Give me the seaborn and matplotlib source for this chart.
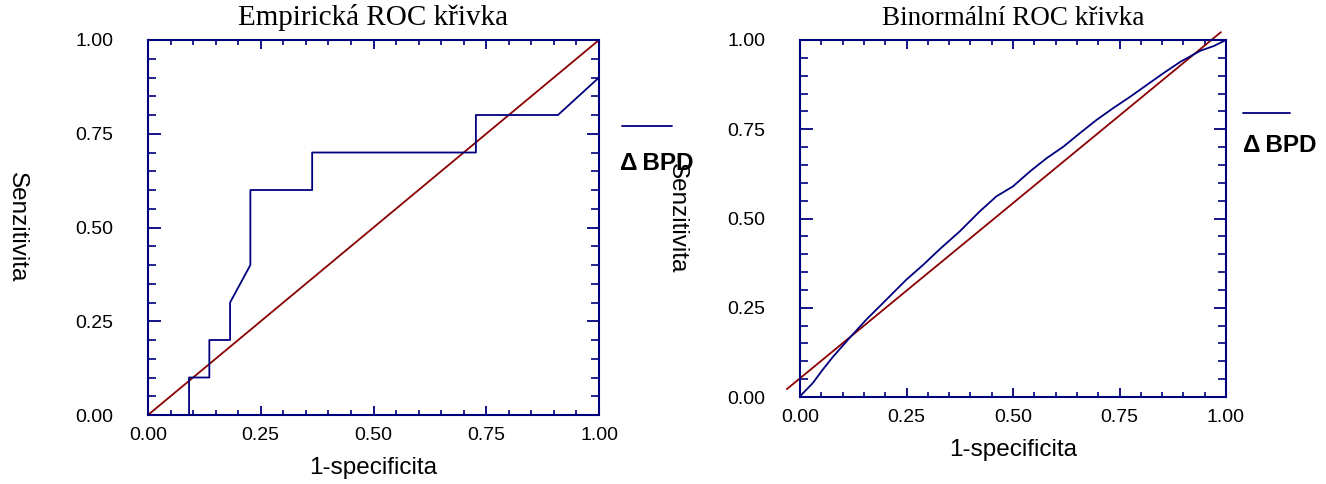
import numpy as np
import pandas as pd
import matplotlib
matplotlib.use("Agg")
import matplotlib.pyplot as plt
import seaborn as sns
from matplotlib.lines import Line2D
from matplotlib.ticker import MultipleLocator, FormatStrFormatter

# ---- data ----
emp_x = [0.0, 0.091, 0.091, 0.136, 0.136, 0.182, 0.182, 0.227, 0.227, 0.364, 0.364, 0.727, 0.727, 0.909, 1.0]
emp_y = [0.0, 0.0, 0.1, 0.1, 0.2, 0.2, 0.3, 0.4, 0.6, 0.6, 0.7, 0.7, 0.8, 0.8, 0.9]
diag_x = [0.0, 1.0]
diag_y = [0.0, 1.0]

bin_x = [0.0, 0.030, 0.053, 0.077, 0.116, 0.155, 0.187, 0.218, 0.249, 0.289, 0.328, 0.375,
         0.422, 0.461, 0.500, 0.540, 0.579, 0.618, 0.657, 0.696, 0.735, 0.775, 0.814, 0.853,
         0.893, 0.940, 0.971, 1.0]
bin_y = [0.002, 0.039, 0.076, 0.112, 0.165, 0.216, 0.254, 0.291, 0.328, 0.370, 0.414, 0.464,
         0.520, 0.562, 0.590, 0.632, 0.669, 0.701, 0.739, 0.776, 0.809, 0.841, 0.874, 0.907,
         0.939, 0.970, 0.983, 1.0]
ref2_x = [-0.031, 0.988]
ref2_y = [0.022, 1.022]

titles = ["Empirická ROC křivka", "Binormální ROC křivka"]
xlabel = "1-specificita"
ylabel = "Senzitivita"
legend_label = "Δ\u2009BPD"

NAVY = "#00007f"
RED = "#8b0000"

sns.set_theme(style="white")
plt.rcParams["font.family"] = ["Liberation Sans", "DejaVu Sans"]
plt.rcParams["text.color"] = "black"
plt.rcParams["axes.labelcolor"] = "black"
plt.rcParams["xtick.color"] = "black"
plt.rcParams["ytick.color"] = "black"

fig = plt.figure(figsize=(13.26, 4.84), dpi=100)
ax1 = fig.add_axes([148/1326, 1-415/484, (599-148)/1326, (415-40)/484])
ax2 = fig.add_axes([800/1326, 1-397/484, (1226-800)/1326, (397-40)/484])

df_emp = pd.DataFrame({"x": emp_x, "y": emp_y})
df_d1 = pd.DataFrame({"x": diag_x, "y": diag_y})
df_bin = pd.DataFrame({"x": bin_x, "y": bin_y})
df_d2 = pd.DataFrame({"x": ref2_x, "y": ref2_y})

sns.lineplot(data=df_d1, x="x", y="y", sort=False, estimator=None, color=RED, lw=1.3, ax=ax1)
sns.lineplot(data=df_emp, x="x", y="y", sort=False, estimator=None, color=NAVY, lw=1.3, ax=ax1)
sns.lineplot(data=df_d2, x="x", y="y", sort=False, estimator=None, color=RED, lw=1.3, ax=ax2)
sns.lineplot(data=df_bin, x="x", y="y", sort=False, estimator=None, color=NAVY, lw=1.3, ax=ax2)
for ln in ax2.get_lines():
    ln.set_clip_on(False)

for ax, t, tfs, lab_y in [(ax1, titles[0], 21, -53/375), (ax2, titles[1], 19.5, -53/357)]:
    ax.set_xlim(0, 1)
    ax.set_ylim(0, 1)
    ax.set_title(t, family=["Liberation Serif", "DejaVu Serif"], fontsize=tfs, pad=11, color="black")
    ax.set_xlabel(xlabel, fontsize=17.5, va="center")
    ax.set_ylabel(ylabel, fontsize=17.5, rotation=-90, va="center")
    ax.xaxis.set_label_coords(0.5, lab_y)
    ax.yaxis.set_label_coords(-0.29, 0.5)
    for s in ax.spines.values():
        s.set_color(NAVY)
        s.set_linewidth(1.5)
        s.set_visible(True)
    ax.xaxis.set_major_locator(MultipleLocator(0.25))
    ax.xaxis.set_minor_locator(MultipleLocator(0.05))
    ax.yaxis.set_major_locator(MultipleLocator(0.25))
    ax.yaxis.set_minor_locator(MultipleLocator(0.05))
    ax.xaxis.set_major_formatter(FormatStrFormatter("%.2f"))
    ax.yaxis.set_major_formatter(FormatStrFormatter("%.2f"))
    ax.tick_params(axis="x", which="major", direction="in", length=6.5, width=1.3, color=NAVY,
                   top=True, bottom=True, labelsize=14, pad=9, labelcolor="black")
    ax.tick_params(axis="x", which="minor", direction="in", length=3.5, width=1.2, color=NAVY,
                   top=True, bottom=True)
    ax.tick_params(axis="y", which="major", direction="in", length=9, width=1.3, color=NAVY,
                   left=True, right=True, labelsize=14, pad=25, labelcolor="black")
    ax.tick_params(axis="y", which="minor", direction="in", length=5.5, width=1.2, color=NAVY,
                   left=True, right=True)
    ax.grid(False)

# legends (line above label)
for (x0, x1, yl, xt, yt) in [(622, 672, 126, 620, 163), (1243, 1290, 113, 1243, 146)]:
    fig.add_artist(Line2D([x0/1326, x1/1326], [1-yl/484, 1-yl/484], color=NAVY, lw=1.3))
    fig.text(xt/1326, 1-yt/484, legend_label, fontsize=17.5, fontweight="bold", ha="left", va="center",
             color="black")

fig.savefig("out.png", dpi=100)
